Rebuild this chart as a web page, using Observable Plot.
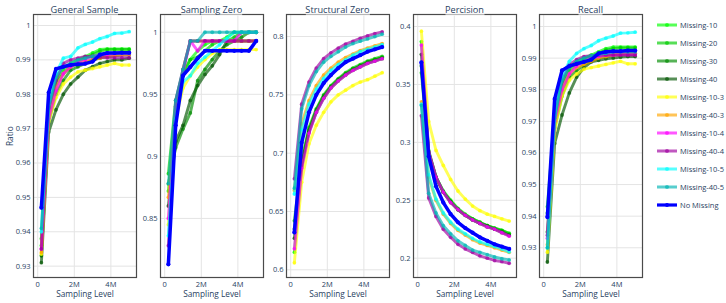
<!DOCTYPE html>
<html><head><meta charset="utf-8">
<script src="https://cdn.jsdelivr.net/npm/d3@7"></script>
<script src="https://cdn.jsdelivr.net/npm/@observablehq/plot@0.6"></script>
<style>
body{margin:0;background:#fff;font-family:"Open Sans",sans-serif;}
#chart{position:relative;width:726px;height:303px;overflow:hidden;background:#fff;}
.panel{position:absolute;top:0;}
.ptitle{position:absolute;top:3px;height:13px;line-height:13px;font-size:9.2px;color:#2a3f5f;background:rgba(255,255,255,0.6);white-space:nowrap;transform:translateX(-50%);padding:0;}
.litem{position:absolute;left:657px;height:12px;display:flex;align-items:center;font-size:7.5px;color:#2a3f5f;white-space:nowrap;}
.litem svg{margin-right:3px;}
</style></head><body><div id="chart"></div>
<script>
const samplingLevels = [0.2,0.6,1.0,1.4,1.8,2.2,2.6,3.0,3.4,3.8,4.2,4.6,5.0];
const xTicks = [0,2,4];
const seriesNames = ["Missing-10","Missing-20","Missing-30","Missing-40","Missing-10-3","Missing-40-3","Missing-10-4","Missing-40-4","Missing-10-5","Missing-40-5","No Missing"];
const seriesColors = ["rgb(0,255,0)","rgb(0,205,0)","rgb(0,140,0)","rgb(0,85,0)","rgb(255,255,0)","rgb(255,165,0)","rgb(255,0,255)","rgb(160,0,160)","rgb(0,255,255)","rgb(0,180,180)","rgb(0,0,255)"];
const panelTitles = ["General Sample","Sampling Zero","Structural Zero","Percision","Recall"];

const generalSample = [
  [0.936,0.975,0.984,0.987,0.989,0.990,0.991,0.992,0.993,0.9932,0.9932,0.9932,0.9932],
  [0.938,0.976,0.983,0.986,0.988,0.9895,0.9905,0.9915,0.9925,0.993,0.993,0.993,0.993],
  [0.933,0.972,0.980,0.984,0.987,0.988,0.989,0.990,0.9905,0.991,0.9912,0.9915,0.9915],
  [0.931,0.969,0.9755,0.980,0.983,0.985,0.987,0.988,0.989,0.9895,0.990,0.990,0.9905],
  [0.9335,0.972,0.979,0.983,0.985,0.9865,0.987,0.9875,0.988,0.9885,0.989,0.9885,0.9885],
  [0.934,0.974,0.982,0.986,0.988,0.989,0.9895,0.990,0.9905,0.991,0.9912,0.9915,0.9915],
  [0.935,0.973,0.981,0.986,0.988,0.9895,0.990,0.991,0.9915,0.9915,0.9918,0.9918,0.9918],
  [0.935,0.976,0.984,0.989,0.990,0.9905,0.991,0.991,0.9908,0.9906,0.9906,0.9906,0.9906],
  [0.940,0.977,0.986,0.9905,0.991,0.9935,0.9945,0.9952,0.9962,0.9968,0.9977,0.9978,0.9982],
  [0.941,0.976,0.985,0.988,0.989,0.990,0.9905,0.991,0.9915,0.992,0.992,0.992,0.992],
  [0.947,0.9805,0.9874,0.988,0.9885,0.9887,0.9889,0.9895,0.9915,0.992,0.992,0.9921,0.9921]
];
const samplingZero = [
  [0.872,0.940,0.965,0.978,0.985,0.990,0.993,0.993,0.996,1.0,1.0,1.0,1.0],
  [0.886,0.945,0.968,0.978,0.980,0.985,0.990,0.993,0.993,0.996,1.0,1.0,1.0],
  [0.878,0.907,0.922,0.935,0.961,0.970,0.978,0.985,0.990,0.993,0.996,1.0,1.0],
  [0.860,0.912,0.925,0.945,0.957,0.966,0.973,0.982,0.993,0.993,0.993,0.993,0.993],
  [0.845,0.930,0.955,0.965,0.972,0.978,0.983,0.986,0.986,0.986,0.986,0.986,0.986],
  [0.867,0.940,0.970,0.993,0.993,0.993,0.993,0.993,0.993,0.993,0.993,0.993,0.993],
  [0.850,0.940,0.968,0.993,0.985,0.993,0.993,0.993,0.993,0.993,1.0,1.0,1.0],
  [0.828,0.945,0.970,0.993,0.993,0.993,0.993,0.993,0.993,0.993,0.993,0.993,0.993],
  [0.836,0.930,0.960,0.965,0.975,0.980,0.985,0.990,0.995,1.0,1.0,1.0,1.0],
  [0.878,0.945,0.970,0.993,0.993,1.0,1.0,1.0,1.0,1.0,1.0,1.0,1.0],
  [0.813,0.925,0.965,0.972,0.979,0.985,0.985,0.985,0.985,0.985,0.985,0.985,0.993]
];
const structuralZero = [
  [0.615,0.688,0.719,0.736,0.748,0.757,0.763,0.768,0.772,0.775,0.778,0.780,0.782],
  [0.642,0.694,0.722,0.738,0.750,0.758,0.764,0.769,0.773,0.776,0.779,0.781,0.783],
  [0.635,0.691,0.720,0.737,0.749,0.757,0.763,0.768,0.772,0.775,0.778,0.780,0.782],
  [0.627,0.689,0.718,0.735,0.747,0.756,0.762,0.767,0.771,0.774,0.777,0.779,0.781],
  [0.606,0.675,0.708,0.724,0.735,0.744,0.750,0.754,0.758,0.761,0.763,0.766,0.769],
  [0.668,0.725,0.745,0.758,0.767,0.773,0.778,0.782,0.785,0.788,0.790,0.792,0.794],
  [0.618,0.687,0.717,0.735,0.747,0.756,0.762,0.767,0.771,0.774,0.777,0.779,0.781],
  [0.678,0.742,0.761,0.773,0.781,0.786,0.790,0.7935,0.7958,0.7985,0.8005,0.8025,0.804],
  [0.665,0.720,0.742,0.755,0.764,0.771,0.776,0.780,0.784,0.787,0.789,0.791,0.793],
  [0.670,0.738,0.758,0.770,0.778,0.783,0.787,0.791,0.794,0.796,0.798,0.800,0.802],
  [0.632,0.709,0.735,0.750,0.760,0.767,0.773,0.778,0.781,0.784,0.787,0.789,0.791]
];
const precision = [
  [0.387,0.293,0.270,0.258,0.250,0.243,0.238,0.234,0.231,0.228,0.226,0.224,0.2215],
  [0.360,0.290,0.269,0.257,0.249,0.242,0.237,0.234,0.231,0.228,0.226,0.224,0.221],
  [0.366,0.291,0.270,0.257,0.249,0.242,0.237,0.233,0.230,0.228,0.225,0.223,0.220],
  [0.376,0.292,0.270,0.257,0.248,0.242,0.237,0.233,0.230,0.227,0.225,0.222,0.2195],
  [0.396,0.318,0.293,0.280,0.268,0.258,0.251,0.245,0.241,0.238,0.236,0.234,0.232],
  [0.335,0.270,0.250,0.238,0.230,0.224,0.220,0.216,0.213,0.211,0.209,0.207,0.205],
  [0.384,0.292,0.270,0.257,0.248,0.242,0.237,0.233,0.230,0.227,0.225,0.222,0.219],
  [0.323,0.252,0.236,0.225,0.218,0.212,0.208,0.205,0.202,0.200,0.198,0.197,0.1956],
  [0.333,0.272,0.251,0.239,0.231,0.225,0.221,0.217,0.214,0.212,0.210,0.208,0.2055],
  [0.332,0.256,0.239,0.228,0.221,0.215,0.211,0.207,0.205,0.203,0.201,0.1995,0.1985],
  [0.369,0.288,0.262,0.248,0.238,0.231,0.226,0.222,0.218,0.215,0.212,0.210,0.208]
];
const recall = [
  [0.943,0.972,0.982,0.987,0.989,0.990,0.991,0.992,0.993,0.9935,0.9935,0.9935,0.9935],
  [0.941,0.970,0.981,0.986,0.988,0.9895,0.9905,0.9915,0.9925,0.993,0.9932,0.9932,0.9932],
  [0.935,0.968,0.978,0.984,0.986,0.988,0.989,0.990,0.9905,0.991,0.9912,0.9915,0.9915],
  [0.9255,0.963,0.972,0.979,0.984,0.987,0.9888,0.9893,0.9898,0.990,0.9903,0.9905,0.9905],
  [0.9286,0.967,0.978,0.983,0.985,0.9865,0.987,0.9875,0.988,0.9885,0.989,0.9882,0.9882],
  [0.931,0.970,0.980,0.985,0.987,0.988,0.989,0.990,0.9905,0.991,0.9912,0.9915,0.9915],
  [0.933,0.970,0.980,0.985,0.9875,0.989,0.990,0.9905,0.991,0.991,0.9911,0.9911,0.9911],
  [0.934,0.972,0.983,0.988,0.9895,0.9905,0.9908,0.991,0.991,0.991,0.991,0.991,0.991],
  [0.930,0.972,0.984,0.989,0.9915,0.993,0.994,0.9955,0.9963,0.997,0.9979,0.998,0.9982],
  [0.930,0.971,0.983,0.987,0.989,0.990,0.9908,0.9912,0.9915,0.992,0.992,0.992,0.992],
  [0.9397,0.9771,0.9861,0.9875,0.9882,0.9888,0.9895,0.9915,0.992,0.9922,0.9922,0.9924,0.9924]
];
const yTicksGeneral = [0.93,0.94,0.95,0.96,0.97,0.98,0.99,1];
const yTicksSamplingZero = [0.85,0.9,0.95,1];
const yTicksStructural = [0.6,0.65,0.7,0.75,0.8];
const yTicksPrecision = [0.2,0.25,0.3,0.35,0.4];
const yTicksRecall = [0.93,0.94,0.95,0.96,0.97,0.98,0.99,1];

const panels = [
  {data: generalSample, domain: [0.9267, 1.0032], ticks: yTicksGeneral, left: 33},
  {data: samplingZero, domain: [0.8024, 1.0143], ticks: yTicksSamplingZero, left: 160},
  {data: structuralZero, domain: [0.5934, 0.8189], ticks: yTicksStructural, left: 286},
  {data: precision, domain: [0.1833, 0.4104], ticks: yTicksPrecision, left: 413},
  {data: recall, domain: [0.9206, 1.0038], ticks: yTicksRecall, left: 539}
];

const chart = document.getElementById("chart");
const ML = 33, FW = 103, MR = 4;
const textColor = "#2a3f5f";
const fmtY = d => String(+d.toFixed(2));
const fmtX = d => d === 0 ? "0" : d + "M";

panels.forEach((p, i) => {
  const marks = [
    Plot.gridY(p.ticks, {stroke: "#e4e4e4", strokeOpacity: 1, strokeWidth: 1}),
    Plot.gridX(xTicks, {stroke: "#e4e4e4", strokeOpacity: 1, strokeWidth: 1})
  ];
  seriesNames.forEach((name, s) => {
    const rows = p.data[s].map((v, k) => ({x: samplingLevels[k], y: v}));
    const main = s === seriesNames.length - 1;
    marks.push(Plot.line(rows, {x: "x", y: "y", stroke: seriesColors[s], strokeOpacity: main ? 1 : 0.66, strokeWidth: main ? 3.5 : 2.9}));
    marks.push(Plot.dot(rows, {x: "x", y: "y", r: main ? 2.1 : 1.9, fill: seriesColors[s], fillOpacity: main ? 1 : 0.66, stroke: "none"}));
  });
  marks.push(Plot.axisY(p.ticks, {tickSize: 0, tickPadding: 3, tickFormat: fmtY, color: textColor, label: null, fontSize: 7.5}));
  marks.push(Plot.axisX(xTicks, {tickSize: 0, tickPadding: 4, tickFormat: fmtX, color: textColor, label: null, fontSize: 7.5}));
  marks.push(Plot.frame({stroke: "#4a4a4a", strokeWidth: 1.2}));
  marks.push(Plot.text(["Sampling Level"], {text: d => d, frameAnchor: "bottom", dy: 19.5, fontSize: 8.3, fill: textColor}));
  if (i === 0) marks.push(Plot.text(["Ratio"], {text: d => d, frameAnchor: "left", dx: -23, rotate: -90, fontSize: 8.3, fill: textColor}));
  const svg = Plot.plot({
    width: ML + FW + MR, height: 303,
    marginLeft: ML, marginRight: MR, marginTop: 14, marginBottom: 26,
    x: {domain: [-0.23, 5.4]},
    y: {domain: p.domain},
    style: {background: "transparent", fontFamily: "'Open Sans', sans-serif", fontSize: "7.5px", overflow: "visible"},
    marks
  });
  svg.classList.add("panel");
  svg.style.left = (p.left - ML) + "px";
  chart.appendChild(svg);
});

panels.forEach((p, i) => {
  const t = document.createElement("div");
  t.className = "ptitle";
  t.textContent = panelTitles[i];
  t.style.left = (p.left + FW / 2) + "px";
  chart.appendChild(t);
});

seriesNames.forEach((name, s) => {
  const main = s === seriesNames.length - 1;
  const item = document.createElement("div");
  item.className = "litem";
  item.style.top = (25 + 18 * s - 6) + "px";
  const op = main ? 1 : 0.66;
  item.innerHTML = `<svg width="20" height="8"><line x1="0" y1="4" x2="20" y2="4" stroke="${seriesColors[s]}" stroke-opacity="${op}" stroke-width="${main ? 3.2 : 3}"/><circle cx="10" cy="4" r="2" fill="${seriesColors[s]}" fill-opacity="${op}"/></svg><span>${name}</span>`;
  chart.appendChild(item);
});
</script>
</body></html>
